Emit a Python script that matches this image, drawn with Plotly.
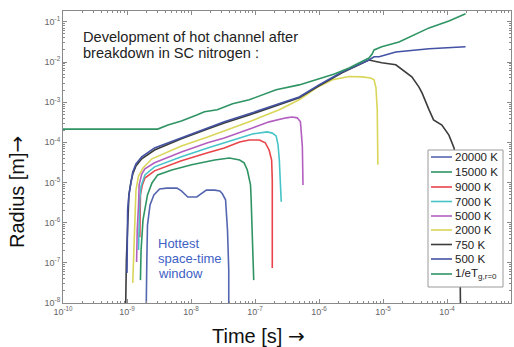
import numpy as np
import plotly.graph_objects as go

# ---- data (log10 of time [s] and log10 of radius [m]) ----
k20000_t = [-8.70, -8.70, -8.69, -8.68, -8.64, -8.58, -8.49, -8.38, -8.22, -8.15, -8.10, -8.05, -7.91, -7.83, -7.76, -7.63, -7.55, -7.51, -7.46, -7.45, -7.43, -7.41, -7.41]
k20000_r = [-8.17, -7.93, -6.93, -6.06, -5.56, -5.31, -5.16, -5.14, -5.14, -5.21, -5.28, -5.36, -5.36, -5.26, -5.19, -5.19, -5.21, -5.28, -5.43, -5.68, -6.18, -7.18, -8.17]

k15000_t = [-8.79, -8.78, -8.75, -8.71, -8.68, -8.61, -8.52, -8.30, -7.99, -7.63, -7.40, -7.24, -7.17, -7.12, -7.07, -7.06, -7.04, -7.03, -7.02]
k15000_r = [-7.43, -6.68, -5.93, -5.56, -5.31, -5.01, -4.81, -4.69, -4.56, -4.44, -4.39, -4.44, -4.51, -4.69, -5.06, -5.43, -6.18, -6.93, -7.43]

k9000_t = [-8.80, -8.80, -8.79, -8.76, -8.72, -8.57, -8.15, -7.74, -7.48, -7.24, -7.09, -6.93, -6.84, -6.78, -6.74, -6.73, -6.73, -6.73]
k9000_r = [-6.36, -5.81, -5.31, -5.06, -4.89, -4.71, -4.46, -4.26, -4.14, -3.99, -3.94, -3.94, -4.01, -4.19, -4.44, -4.94, -6.18, -7.13]

k7000_t = [-8.82, -8.81, -8.80, -8.78, -8.72, -8.57, -8.15, -7.74, -7.48, -7.24, -7.04, -6.81, -6.73, -6.67, -6.64, -6.62, -6.60, -6.59]
k7000_r = [-6.68, -5.93, -5.43, -5.09, -4.81, -4.61, -4.36, -4.14, -4.01, -3.89, -3.79, -3.74, -3.77, -3.84, -4.06, -4.44, -4.94, -5.48]

k5000_t = [-8.85, -8.84, -8.82, -8.81, -8.77, -8.72, -8.57, -8.15, -7.74, -7.48, -7.04, -6.78, -6.51, -6.42, -6.34, -6.29, -6.28, -6.26, -6.25]
k5000_r = [-6.98, -6.18, -5.56, -5.06, -4.79, -4.66, -4.51, -4.24, -4.01, -3.89, -3.64, -3.49, -3.39, -3.37, -3.39, -3.49, -3.69, -4.11, -5.06]

k2000_t = [-8.91, -8.89, -8.88, -8.86, -8.82, -8.75, -8.61, -8.15, -7.74, -7.48, -7.09, -6.78, -6.62, -6.31, -6.04, -5.79, -5.53, -5.33, -5.19, -5.14, -5.11, -5.09, -5.09, -5.08]
k2000_r = [-7.50, -6.43, -5.68, -5.19, -4.84, -4.64, -4.41, -4.09, -3.87, -3.72, -3.49, -3.29, -3.19, -2.94, -2.64, -2.44, -2.36, -2.37, -2.40, -2.44, -2.64, -3.19, -3.94, -4.56]

k750_t = [-9.03, -9.02, -9.01, -8.99, -8.97, -8.94, -8.91, -8.86, -8.77, -8.57, -8.15, -7.74, -7.48, -7.09, -6.67, -6.31, -6.00, -5.64, -5.22, -5.02, -4.80, -4.64, -4.55, -4.44, -4.39, -4.28, -4.21, -4.08, -3.97, -3.89, -3.86, -3.82, -3.80, -3.79, -3.78]
k750_r = [-8.17, -8.00, -6.93, -5.93, -5.31, -5.00, -4.79, -4.59, -4.41, -4.19, -3.91, -3.67, -3.52, -3.32, -3.09, -2.89, -2.59, -2.27, -1.95, -2.02, -2.07, -2.25, -2.37, -2.62, -2.77, -3.19, -3.44, -3.57, -3.82, -4.14, -4.44, -5.19, -6.43, -8.00, -8.17]

k500_t = [-9.00, -9.00, -8.99, -8.97, -8.94, -8.91, -8.86, -8.77, -8.57, -8.15, -7.74, -7.48, -7.09, -6.67, -6.31, -6.00, -5.64, -5.22, -5.14, -5.06, -4.80, -4.28, -3.71]
k500_r = [-7.25, -6.43, -5.68, -5.31, -5.01, -4.74, -4.54, -4.36, -4.14, -3.89, -3.64, -3.49, -3.29, -3.07, -2.87, -2.57, -2.25, -1.95, -1.87, -1.87, -1.75, -1.67, -1.62]

inv_eT_t = [-10.00, -8.52, -8.36, -8.15, -7.91, -7.79, -7.59, -7.35, -7.09, -6.88, -6.82, -6.67, -6.31, -6.04, -5.76, -5.53, -5.37, -5.22, -5.17, -5.14, -5.02, -4.75, -4.28, -3.97, -3.71]
inv_eT_r = [-3.67, -3.67, -3.57, -3.47, -3.32, -3.24, -3.19, -3.04, -2.94, -2.82, -2.77, -2.69, -2.57, -2.44, -2.30, -2.15, -2.02, -1.90, -1.80, -1.70, -1.62, -1.50, -1.15, -0.98, -0.80]

series_names = ["20000 K", "15000 K", "9000 K", "7000 K", "5000 K", "2000 K", "750 K", "500 K", "1/eT<sub>g,r=0</sub>"]
series_colors = ["#5566b0", "#2f9463", "#e8454a", "#47c4c8", "#b35fc0", "#d9d65a", "#3c3c3c", "#4352a3", "#2f9463"]
series_t = [k20000_t, k15000_t, k9000_t, k7000_t, k5000_t, k2000_t, k750_t, k500_t, inv_eT_t]
series_r = [k20000_r, k15000_r, k9000_r, k7000_r, k5000_r, k2000_r, k750_r, k500_r, inv_eT_r]

x_exponents = [-10, -9, -8, -7, -6, -5, -4, -3]
y_exponents = [-8, -7, -6, -5, -4, -3, -2, -1]

FONT = "Arial, Liberation Sans, DejaVu Sans, sans-serif"
ARROW_FONT = "DejaVu Sans"

# ---- layout geometry (pixels of the 514x347 page) ----
W, H = 514, 347
ML, MR, MT, MB = 63, 3, 11, 44
PW, PH = W - ML - MR, H - MT - MB


def px(x):
    return (x - ML) / PW


def py(y):
    return 1 - (y - MT) / PH


fig = go.Figure()
for name, col, tl, rl in zip(series_names, series_colors, series_t, series_r):
    fig.add_trace(go.Scatter(
        x=10 ** np.array(tl), y=10 ** np.array(rl), mode="lines", name=name,
        line=dict(color=col, width=1.6), hoverinfo="skip", showlegend=False))


def minor_vals(exps):
    return [m * 10.0 ** e for e in exps[:-1] for m in range(2, 10)]


axis_common = dict(
    type="log", showgrid=False, zeroline=False, showline=True, linecolor="#8a8a8a",
    linewidth=1, mirror="ticks", ticks="inside", ticklen=4, tickcolor="#8a8a8a",
    tickfont=dict(family=FONT, size=9, color="#666666"),
)

fig.update_xaxes(
    **axis_common, range=[-10, -3],
    tickmode="array", tickvals=[10.0 ** e for e in x_exponents],
    ticktext=["10<sup>%d</sup>" % e for e in x_exponents],
    minor=dict(ticks="inside", ticklen=2, tickcolor="#8a8a8a", tickmode="array",
               tickvals=minor_vals(x_exponents)),
)
fig.update_yaxes(
    **axis_common, range=[-8, -0.73],
    tickmode="array", tickvals=[10.0 ** e for e in y_exponents],
    ticktext=["10<sup>%d</sup>" % e for e in y_exponents],
    minor=dict(ticks="inside", ticklen=2, tickcolor="#8a8a8a", tickmode="array",
               tickvals=minor_vals(y_exponents + [0])),
)

# ---- texts ----
for txt, yc in [("Development of hot channel after", 37), ("breakdown in SC nitrogen :", 53)]:
    fig.add_annotation(text=txt, xref="paper", yref="paper", x=px(81), y=py(yc),
                       xanchor="left", yanchor="middle", showarrow=False,
                       font=dict(family=FONT, size=14.6, color="#222222"))

for txt, yc in [("Hottest", 243), ("space-time", 258), ("window", 273)]:
    fig.add_annotation(text=txt, xref="paper", yref="paper", x=px(156), y=py(yc),
                       xanchor="left", yanchor="middle", showarrow=False,
                       font=dict(family=FONT, size=13, color="#4061c4"))

fig.add_annotation(text="Time [s] <span style='font-family:%s'>\u2192</span>" % ARROW_FONT,
                   xref="paper", yref="paper", x=px(258), y=py(336),
                   xanchor="center", yanchor="middle", showarrow=False,
                   font=dict(family=FONT, size=20, color="#111111"))
fig.add_annotation(text="Radius [m]<span style='font-family:%s'>\u2192</span>" % ARROW_FONT,
                   xref="paper", yref="paper", x=px(17), y=py(192),
                   xanchor="center", yanchor="middle", textangle=-90, showarrow=False,
                   font=dict(family=FONT, size=20, color="#111111"))

# ---- legend box (drawn as shapes + texts) ----
shapes = [dict(type="rect", xref="paper", yref="paper", x0=px(428), x1=px(503),
               y0=py(287), y1=py(150), fillcolor="white",
               line=dict(color="#9a9a9a", width=1), layer="above")]
legend_rows = [157, 172, 187, 201.5, 216, 230, 244.5, 259, 274]
for name, col, yr in zip(series_names, series_colors, legend_rows):
    shapes.append(dict(type="line", xref="paper", yref="paper", x0=px(431), x1=px(452),
                       y0=py(yr), y1=py(yr), line=dict(color=col, width=1.6), layer="above"))
    fig.add_annotation(text=name, xref="paper", yref="paper", x=px(453), y=py(yr),
                       xanchor="left", yanchor="middle", showarrow=False,
                       font=dict(family=FONT, size=11.5, color="#222222"))

fig.update_layout(
    width=W, height=H, margin=dict(l=ML, r=MR, t=MT, b=MB),
    paper_bgcolor="white", plot_bgcolor="white", showlegend=False,
    shapes=shapes,
)

fig.write_html("out.html")
